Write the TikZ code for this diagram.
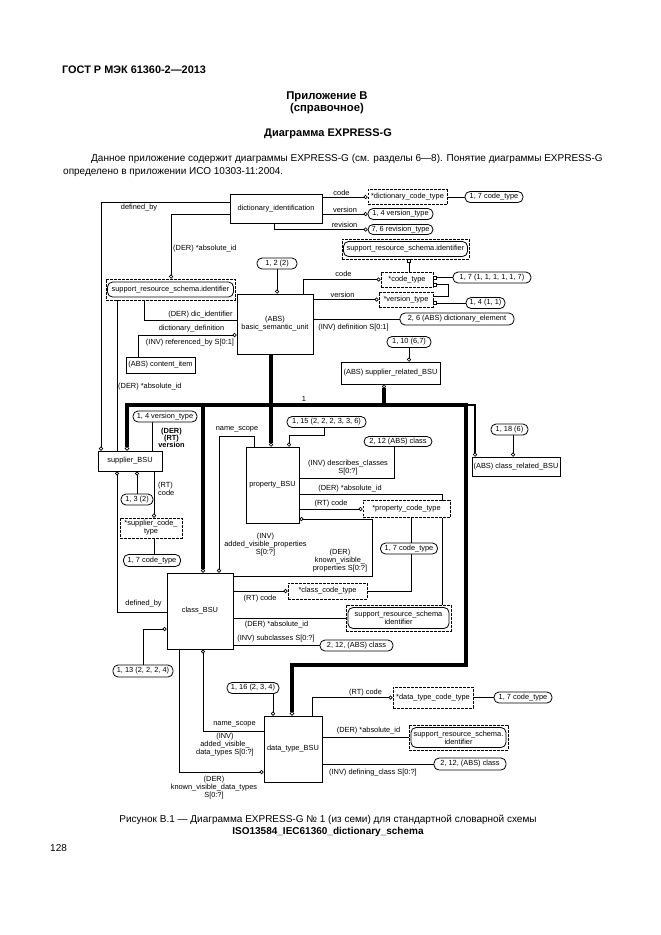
\documentclass[tikz,border=0pt]{standalone}
\usepackage{fontspec}
\setmainfont{Liberation Sans}
\usetikzlibrary{arrows.meta}
\pgfdeclarelayer{bottom}
\pgfdeclarelayer{back}
\pgfsetlayers{bottom,back,main}
\newcommand\dfont{\fontsize{7.4}{8}\selectfont}
\tikzset{
  ent/.style={draw,line width=0.8pt,fill=white,inner sep=0pt,font=\dfont,align=center},
  deft/.style={draw,line width=0.8pt,dash pattern=on 2.6pt off 1.4pt,fill=white,inner sep=0pt,font=\dfont,align=center},
  pref/.style={draw,line width=0.8pt,rounded corners=5pt,fill=white,inner sep=0pt,font=\dfont,align=center},
  sz/.style 2 args={minimum width=#1pt,minimum height=#2pt},
  lbl/.style={inner sep=0pt,font=\dfont,align=center},
  blbl/.style={inner sep=0pt,font=\fontsize{7.4}{7}\selectfont\bfseries,align=center},
  hdr/.style={inner sep=0pt,font=\fontsize{11.3}{12}\selectfont\bfseries},
  body/.style={inner sep=0pt,font=\fontsize{10}{12}\selectfont},
  ln/.style={line width=0.8pt},
  mid/.style={line width=1.6pt},
  thk/.style={line width=3.6pt},
  oc/.style={-{Circle[open,length=4pt,width=4pt,line width=0.7pt]}},
  co/.style={{Circle[open,length=4pt,width=4pt,line width=0.7pt]}-},
  coc/.style={{Circle[open,length=4.4pt,width=4.4pt,line width=0.7pt]}-{Circle[open,length=4.4pt,width=4.4pt,line width=0.7pt]}},
  sq/.style={{Square[open,length=3.4pt,width=3.4pt,line width=0.7pt]}-},
}
\begin{document}
\begin{tikzpicture}[x=1pt,y=-1pt]
\useasboundingbox (0,0) rectangle (661,935);
\begin{pgfonlayer}{bottom}
\fill[white] (0,0) rectangle (661,935);
\end{pgfonlayer}

% ---------- header ----------
\node[hdr,anchor=base west,font=\fontsize{10.9}{12}\selectfont\bfseries] (t1) at (62,73) {ГОСТ Р МЭК 61360-2—2013};
\node[hdr] (t2) at (327,97) {Приложение В};
\node[hdr] (t3) at (327,109) {(справочное)};
\node[hdr,font=\fontsize{11}{12}\selectfont\bfseries] (t4) at (328,134) {Диаграмма EXPRESS-G};
\node[body,anchor=base west] (p1) at (91,161) {Данное приложение содержит диаграммы EXPRESS-G (см. разделы 6—8). Понятие диаграммы EXPRESS-G};
\node[body,anchor=base west] (p2) at (63,174) {определено в приложении ИСО 10303-11:2004.};

% ---------- entities ----------
\node[ent,sz={92}{29}] (di) at (276,208.5) {dictionary\_identification};
\node[ent,sz={76}{60}] (bsu) at (275,324) {(ABS)\\basic\_semantic\_unit};
\node[ent,sz={69}{16}] (ci) at (160.5,365) {(ABS) content\_item};
\node[ent,sz={99}{22}] (srb) at (390.5,373) {(ABS) supplier\_related\_BSU};
\node[ent,sz={64}{20}] (sb) at (130,461) {supplier\_BSU};
\node[ent,sz={53}{76}] (pb) at (272.5,485) {property\_BSU};
\node[ent,sz={88}{19}] (crb) at (516,466.5) {(ABS) class\_related\_BSU};
\node[ent,sz={66}{76}] (cb) at (200,611) {class\_BSU};
\node[ent,sz={58}{66}] (dtb) at (293,749) {data\_type\_BSU};

% ---------- defined types ----------
\node[deft,sz={79}{15}] (dct) at (407.5,197) {*dictionary\_code\_type};
\node[deft,sz={52}{15}] (ctp) at (407,279.5) {*code\_type};
\node[deft,sz={54}{15}] (vtp) at (406,299.5) {*version\_type};
\node[deft,sz={62}{20}] (sct) at (151,528) {*supplier\_code\_\\type};
\node[deft,sz={87}{17}] (pct) at (406.5,509) {*property\_code\_type};
\node[deft,sz={79}{16}] (cct) at (327.5,591) {*class\_code\_type};
\node[deft,sz={80}{21}] (dtct) at (433,697.5) {*data\_type\_code\_type};

% ---------- support_resource_schema identifiers ----------
\node[deft,sz={127}{20}] (sid1) at (405.5,249) {};
\node[pref,sz={124}{15}] (sid1i) at (405.5,249) {support\_resource\_schema.identifier};
\node[deft,sz={129}{21}] (sid2) at (170.5,289.5) {};
\node[pref,sz={126}{15}] (sid2i) at (170.5,289.5) {support\_resource\_schema.identifier};
\node[deft,sz={105}{26}] (sid3) at (398.5,618) {};
\node[pref,sz={101}{21}] (sid3i) at (398.5,618) {support\_resource\_schema\\identifier};
\node[deft,sz={99}{25}] (sid4) at (458.5,737.5) {};
\node[pref,sz={95}{20}] (sid4i) at (458.5,737.5) {support\_resource\_schema.\\identifier};

% ---------- page references ----------
\node[pref,sz={58}{11}] (r1) at (494,197) {1, 7 code\_type};
\node[pref,sz={65}{11}] (r2) at (400.5,214) {1, 4 version\_type};
\node[pref,sz={65}{10}] (r3) at (400.5,229.5) {7, 6 revision\_type};
\node[pref,sz={40}{11}] (r4) at (277,263.5) {1, 2 (2)};
\node[pref,sz={78}{11}] (r5) at (492,277.5) {1, 7 (1, 1, 1, 1, 1, 7)};
\node[pref,sz={39}{11}] (r6) at (485.5,303) {1, 4 (1, 1)};
\node[pref,sz={114}{12}] (r7) at (457,319) {2, 6 (ABS) dictionary\_element};
\node[pref,sz={44}{11}] (r8) at (409,342) {1, 10 (6,7)};
\node[pref,sz={64}{11}] (r9) at (165,416.5) {1, 4 version\_type};
\node[pref,sz={79}{11}] (r10) at (326.5,422) {1, 15 (2, 2, 2, 3, 3, 6)};
\node[pref,sz={68}{10}] (r11) at (398,441.5) {2, 12 (ABS) class};
\node[pref,sz={37}{11}] (r12) at (509.5,429.5) {1, 18 (6)};
\node[pref,sz={32}{11}] (r13) at (137,499.5) {1, 3 (2)};
\node[pref,sz={57}{12}] (r14) at (152,560.5) {1, 7 code\_type};
\node[pref,sz={57}{11}] (r15) at (409,548.5) {1, 7 code\_type};
\node[pref,sz={73}{11}] (r16) at (356.5,645.5) {2, 12, (ABS) class};
\node[pref,sz={60}{12}] (r17) at (143,671) {1, 13 (2, 2, 2, 4)};
\node[pref,sz={52}{11}] (r18) at (253,688) {1, 16 (2, 3, 4)};
\node[pref,sz={58}{11}] (r19) at (523,697.5) {1, 7 code\_type};
\node[pref,sz={72}{12}] (r20) at (470,764) {2, 12, (ABS) class};

% ---------- labels ----------
\node[lbl] (La) at (341.5,192.5) {code};
\node[lbl] (Lb) at (345,209.5) {version};
\node[lbl] (Lc) at (344.5,224.5) {revision};
\node[lbl] (Ld) at (139,207.5) {defined\_by};
\node[lbl,anchor=west] (Le) at (173,249) {(DER) *absolute\_id};
\node[lbl] (Lf) at (343.5,274) {code};
\node[lbl] (Lg) at (342.5,295) {version};
\node[lbl] (Lh) at (353.5,327.5) {(INV) definition S[0:1]};
\node[lbl] (Li) at (200.5,314.5) {(DER) dic\_identifier};
\node[lbl] (Lj) at (191.5,328.5) {dictionary\_definition};
\node[lbl] (Lk) at (190,343) {(INV) referenced\_by S[0:1]};
\node[lbl,anchor=west] (Ll) at (118,387) {(DER) *absolute\_id};
\node[lbl] (Lm) at (304,398.5) {1};
\node[blbl] (Ln) at (171.5,438) {(DER)\\(RT)\\version};
\node[lbl,align=left,anchor=west] (Lo) at (158,488.5) {(RT)\\code};
\node[lbl] (Lp) at (237,429.5) {name\_scope};
\node[lbl] (Lq) at (348,467.5) {(INV) describes\_classes\\S[0:?]};
\node[lbl] (Lr) at (350,488.5) {(DER) *absolute\_id};
\node[lbl] (Ls) at (331,503.5) {(RT) code};
\node[lbl] (Lt) at (265.5,545) {(INV)\\added\_visible\_properties\\S[0:?]};
\node[lbl] (Lu) at (340,561) {(DER)\\known\_visible\_\\properties S[0:?]};
\node[lbl] (Lv) at (143.5,603.5) {defined\_by};
\node[lbl] (Lw) at (260,598.5) {(RT) code};
\node[lbl] (Lx) at (276.5,624.5) {(DER) *absolute\_id};
\node[lbl] (Ly) at (276,639) {(INV) subclasses S[0:?]};
\node[lbl] (Lz) at (234.5,724.5) {name\_scope};
\node[lbl] (L1) at (225,745) {(INV)\\added\_visible\_\\data\_types S[0:?]};
\node[lbl] (L2) at (214,787.5) {(DER)\\known\_visible\_data\_types\\S[0:?]};
\node[lbl] (L3) at (365.5,692.5) {(RT) code};
\node[lbl] (L4) at (368.5,731) {(DER) *absolute\_id};
\node[lbl] (L5) at (373,772.5) {(INV) defining\_class S[0:?]};

% ---------- caption ----------
\node[body] (c1) at (328,820) {Рисунок В.1 — Диаграмма EXPRESS-G № 1 (из семи) для стандартной словарной схемы};
\node[body,font=\fontsize{10}{12}\selectfont\bfseries] (c2) at (328,832) {ISO13584\_IEC61360\_dictionary\_schema};
\node[body,anchor=base west] (pg) at (50,851) {128};

% ---------- connectors ----------
\coordinate (jL) at (127,405);
\coordinate (jR) at (466,405);
\coordinate (jB) at (466,665);
\begin{pgfonlayer}{back}
% dictionary_identification
\draw[ln,oc] (di.east |- dct.west) -- (dct.west);
\draw[ln,oc] (di.east |- r2.west) -- (r2.west);
\draw[ln,oc] (di.south -| 274,0) |- (r3.west);
\draw[ln] (dct.east) -- (r1.west);
\draw[ln,oc] (di.west |- 0,202) -| (sb.north -| 101,0);
\draw[ln,oc] (di.west |- 0,214) -| (sid2.north -| 171,0);
% code / version types
\draw[ln,sq] (sid1.south -| 409,0) -- (ctp.north -| 409,0);
\draw[ln,oc] (bsu.north -| 303,0) |- (ctp.west);
\draw[ln,oc] (bsu.east |- vtp.west) -- (vtp.west);
\draw[ln,sq] (ctp.east |- r5.west) -- (r5.west);
\draw[ln,sq] (ctp.east |- 0,284.5) -- (448,284.5) |- (vtp.east |- 0,296);
\draw[ln,sq] (vtp.east |- r6.west) -- (r6.west);
\draw[ln] (bsu.east |- r7.west) -- (r7.west);
\draw[ln,oc] (r4.south) -- (bsu.north -| r4.south);
% basic_semantic_unit left side
\draw[ln] (bsu.west |- 0,320) -| (sid2.south -| 144,0);
\draw[ln,oc] (ci.north -| 138,0) |- (bsu.west |- 0,335);
\draw[ln] (sid2.south -| 117,0) -- (sb.north -| 117,0);
\draw[ln,oc] (r8.south) -- (srb.north -| r8.south);
% supertype tree
\draw[thk,coc] (sb.north -| jL) -- (jL) -- (jR) -- (jB) -- (292,665) -- (dtb.north -| 292,0);
\draw[thk,oc] (bsu.south -| 271,0) -- (pb.north -| 271,0);
\draw[thk,oc] (203,405) -- (cb.north -| 203,0);
\draw[thk,co] (srb.south -| 384,0) -- (384,405);
\draw[mid,oc] (jR) -- (475,405) -- (crb.north -| 475,0);
\draw[ln,oc] (r12.south -| 513,0) -- (crb.north -| 513,0);
% supplier_BSU
\draw[ln,co] (sb.south -| 117,0) |- (cb.west |- 0,612);
\draw[ln,co] (sb.south -| 137,0) -- (r13.north);
\draw[ln] (r9.south -| 152,0) -- (sb.north -| 152,0);
\draw[ln,oc] (sb.south -| 154,0) -- (sct.north -| 154,0);
\draw[ln] (sct.south -| 154,0) -- (r14.north -| 154,0);
% property_BSU
\draw[ln,oc] (r10.south -| 324,0) -- (324,435) -| (pb.north -| 289,0);
\draw[ln] (r11.south -| 394,0) |- (pb.east |- 0,478);
\draw[ln] (pb.east |- 0,494) -| (sid3.north -| 442,0);
\draw[ln,oc] (pb.east |- pct.west) -- (pct.west);
\draw[ln] (pct.south -| 411,0) -- (r15.north -| 411,0);
\draw[ln] (r15.south -| 411,0) |- (cct.east);
\draw[ln,co] (pb.east |- 0,519) -- (372,519) |- (cb.east |- 0,576);
\draw[ln,oc] (pb.north -| 254,0) -- (254,436) -| (cb.north -| 219,0);
% class_BSU
\draw[ln,oc] (cb.east |- cct.west) -- (cct.west);
\draw[ln] (cb.east |- sid3.west) -- (sid3.west);
\draw[ln] (cb.east |- r16.west) -- (r16.west);
\draw[ln,co] (cb.west |- 0,629) -| (r17.north);
\draw[ln,co] (cb.south -| 203,0) |- (dtb.west |- 0,731);
\draw[ln,oc] (cb.south -| 179,0) |- (dtb.west |- 0,772);
% data_type_BSU
\draw[ln,oc] (r18.south -| 273,0) -- (dtb.north -| 273,0);
\draw[ln,oc] (dtb.north -| 312,0) |- (dtct.west);
\draw[ln] (dtct.east) -- (r19.west);
\draw[ln] (dtb.east |- sid4.west) -- (sid4.west);
\draw[ln] (dtb.east |- r20.west) -- (r20.west);
\end{pgfonlayer}
\end{tikzpicture}
\end{document}
